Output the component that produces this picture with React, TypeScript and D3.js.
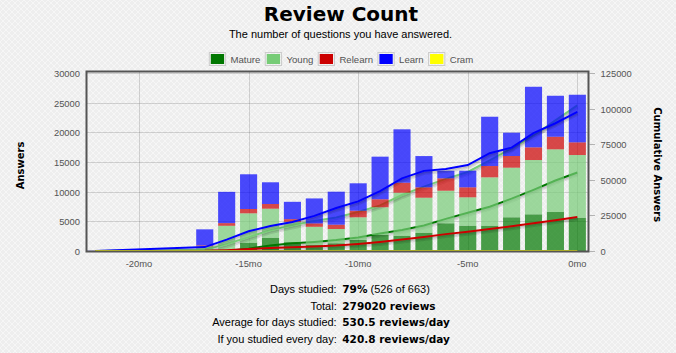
import React from "react";
import * as d3 from "d3";

// ---- data ----
const months = [-22, -17, -16, -15, -14, -13, -12, -11, -10, -9, -8, -7, -6, -5, -4, -3, -2, -1, 0];
const matureCounts = [0, 100, 150, 1400, 2240, 1500, 1000, 1300, 1850, 2700, 2580, 3080, 4670, 4260, 4260, 5680, 6180, 6570, 5610];
const youngCounts = [0, 700, 4100, 4950, 4890, 3420, 3080, 2410, 3830, 4670, 7245, 5900, 5490, 4790, 8155, 8360, 9150, 10565, 10565];
const relearnCounts = [0, 150, 450, 730, 790, 450, 570, 725, 1110, 1350, 1685, 1750, 2090, 1685, 1905, 1970, 2140, 2120, 2140];
const learnCounts = [30, 2700, 5270, 5850, 3660, 2920, 4210, 5560, 4620, 7180, 9000, 5270, 1280, 2800, 8310, 3930, 10210, 6910, 8020];
const cramCounts = [0, 0, 0, 0, 0, 0, 0, 0, 0, 0, 0, 0, 0, 0, 0, 0, 0, 0, 0];

const seriesNames = ["Mature", "Young", "Relearn", "Learn", "Cram"];
const seriesColors = ["#007700", "#77cc77", "#cc0000", "#0000ff", "#ffff00"];

const leftTicks = [0, 5000, 10000, 15000, 20000, 25000, 30000];
const rightTicks = [0, 25000, 50000, 75000, 100000, 125000];
const monthTicks = [-20, -15, -10, -5, 0];
const monthTickLabels = ["-20mo", "-15mo", "-10mo", "-5mo", "0mo"];

const titleText = "Review Count";
const subtitleText = "The number of questions you have answered.";
const leftAxisTitle = "Answers";
const rightAxisTitle = "Cumulative Answers";

const statLabels = ["Days studied:", "Total:", "Average for days studied:", "If you studied every day:"];
const statValues = ["79%", "279020 reviews", "530.5 reviews/day", "420.8 reviews/day"];
const statExtras = [" (526 of 663)", "", "", ""];

// ---- layout ----
const W = 676;
const H = 353;
const SANS = "'Liberation Sans', Arial, sans-serif";
const BOLD = "'DejaVu Sans', Verdana, sans-serif";
const AXIS_COLOR = "#545454";

function measureText(text: string, font: string): number {
  const ctx = document.createElement("canvas").getContext("2d");
  if (!ctx) return text.length * 5;
  ctx.font = font;
  return ctx.measureText(text).width;
}

export default function App() {
  const x = d3.scaleLinear().domain([-22.4, 0.55]).range([86.4, 589.4]);
  const yL = d3.scaleLinear().domain([0, 30000]).range([251, 73]);
  const yR = d3.scaleLinear().domain([0, 125000]).range([251, 73]);

  const seriesValues = [matureCounts, youngCounts, relearnCounts, learnCounts, cramCounts];
  const rows = months.map((m, i) => {
    const r: any = { month: m };
    seriesNames.forEach((n, k) => (r[n] = seriesValues[k][i]));
    return r;
  });
  const stacked = d3.stack<any>().keys(seriesNames)(rows);
  const cumulative = seriesValues.map((v) => Array.from(d3.cumsum(v)));
  const barW = x(0.78) - x(0);

  const lineGen = d3
    .line<number>()
    .x((_, i) => x(months[i]))
    .y((d) => yR(d));

  // legend layout
  const legendFont = `9.6px ${SANS}`;
  const boxW = 17.3;
  const gapA = 4.4;
  const gapB = 4.4;
  const textWs = seriesNames.map((n) => measureText(n, legendFont));
  const totalLegend =
    textWs.reduce((a, b) => a + b, 0) + seriesNames.length * (boxW + gapA) + (seriesNames.length - 1) * gapB;
  let cursor = 341 - totalLegend / 2;
  const legendItems = seriesNames.map((n, i) => {
    const bx = cursor;
    const tx = bx + boxW + gapA;
    cursor = tx + textWs[i] + gapB;
    return { name: n, color: seriesColors[i], bx, tx };
  });

  const plotL = 86.5;
  const plotT = 71.5;
  const plotR = 588.5;
  const plotB = 251.5;

  return (
    <div style={{ position: "absolute", left: 0, top: 0, width: W, height: H }}>
      <svg width={W} height={H} style={{ display: "block" }}>
        <defs>
          <pattern id="bgtex" width="6" height="6" patternUnits="userSpaceOnUse">
            <rect width="6" height="6" fill="#eeeeee" />
            <path d="M0,0 L6,6 M6,0 L0,6" stroke="#f6f6f6" strokeWidth="1" />
          </pattern>
          <clipPath id="plotclip">
            <rect x={plotL} y={plotT} width={plotR - plotL} height={plotB - plotT} />
          </clipPath>
        </defs>
        <rect width={W} height={H} fill="url(#bgtex)" />

        {/* title */}
        <text x={341} y={21} textAnchor="middle" fontFamily={BOLD} fontWeight="bold" fontSize={20} fill="#000">
          {titleText}
        </text>
        <text x={340.5} y={37.5} textAnchor="middle" fontFamily={SANS} fontSize={11} fill="#000">
          {subtitleText}
        </text>

        {/* legend */}
        {legendItems.map((it) => (
          <g key={it.name}>
            <rect x={it.bx + 0.5} y={52.5} width={boxW - 1} height={13} fill="none" stroke="#cccccc" strokeWidth={1} />
            <rect x={it.bx + 2} y={54} width={boxW - 4} height={10} fill={it.color} />
            <text x={it.tx} y={62.5} fontFamily={SANS} fontSize={9.6} fill={AXIS_COLOR}>
              {it.name}
            </text>
          </g>
        ))}

        {/* grid */}
        <g stroke="rgba(84,84,84,0.22)" strokeWidth={1}>
          {leftTicks.map((t) => (
            <line key={"h" + t} x1={plotL} x2={plotR} y1={Math.round(yL(t)) + 0.5} y2={Math.round(yL(t)) + 0.5} />
          ))}
          {monthTicks.map((t) => (
            <line key={"v" + t} x1={Math.round(x(t)) + 0.5} x2={Math.round(x(t)) + 0.5} y1={plotT} y2={plotB} />
          ))}
        </g>

        {/* series: bars then cumulative line, in flot order */}
        <g clipPath="url(#plotclip)">
          {stacked.map((layer, k) => (
            <g key={seriesNames[k]}>
              {layer.map((d, i) =>
                d[1] - d[0] > 0 ? (
                  <rect
                    key={i}
                    x={x(months[i]) - barW / 2}
                    y={yL(d[1])}
                    width={barW}
                    height={yL(d[0]) - yL(d[1])}
                    fill={seriesColors[k]}
                    fillOpacity={0.7}
                  />
                ) : null
              )}
              <path
                d={lineGen(cumulative[k]) || ""}
                fill="none"
                stroke="rgba(0,0,0,0.1)"
                strokeWidth={3}
                transform="translate(0.43,2.46)"
              />
              <path
                d={lineGen(cumulative[k]) || ""}
                fill="none"
                stroke="rgba(0,0,0,0.1)"
                strokeWidth={1.5}
                transform="translate(0.3,1.72)"
              />
              <path d={lineGen(cumulative[k]) || ""} fill="none" stroke={seriesColors[k]} strokeWidth={2} />
            </g>
          ))}
        </g>

        {/* frame */}
        <rect x={plotL} y={plotT} width={plotR - plotL} height={plotB - plotT} fill="none" stroke={AXIS_COLOR} strokeWidth={2} />

        {/* left axis labels */}
        {leftTicks.map((t) => (
          <text key={"l" + t} x={80} y={yL(t) + 4} textAnchor="end" fontFamily={SANS} fontSize={9.4} fill={AXIS_COLOR}>
            {t}
          </text>
        ))}
        {/* right axis ticks + labels */}
        {rightTicks.map((t) => (
          <g key={"r" + t}>
            <line x1={589.5} x2={595} y1={Math.round(yR(t)) + 0.5} y2={Math.round(yR(t)) + 0.5} stroke="rgba(84,84,84,0.4)" />
            <text x={600.5} y={yR(t) + 4} textAnchor="start" fontFamily={SANS} fontSize={9.4} fill={AXIS_COLOR}>
              {t}
            </text>
          </g>
        ))}
        {/* x axis labels */}
        {monthTicks.map((t, i) => (
          <text key={"x" + t} x={x(t)} y={267} textAnchor="middle" fontFamily={SANS} fontSize={9.4} fill={AXIS_COLOR}>
            {monthTickLabels[i]}
          </text>
        ))}

        {/* axis titles */}
        <text
          transform={`translate(24,165.5) rotate(-90)`}
          textAnchor="middle"
          fontFamily={BOLD}
          fontWeight="bold"
          fontSize={10}
          fill="#000"
        >
          {leftAxisTitle}
        </text>
        <text
          transform={`translate(653.5,164.7) rotate(90)`}
          textAnchor="middle"
          fontFamily={BOLD}
          fontWeight="bold"
          fontSize={10}
          fill="#000"
        >
          {rightAxisTitle}
        </text>

        {/* stats */}
        {statLabels.map((lab, i) => (
          <g key={lab}>
            <text x={336.7} y={293 + i * 16.55} textAnchor="end" fontFamily={SANS} fontSize={11} fill="#000">
              {lab}
            </text>
            <text x={342.3} y={293 + i * 16.55} textAnchor="start" fontFamily={SANS} fontSize={11} fill="#000">
              <tspan fontFamily={BOLD} fontWeight="bold" fontSize={10.5}>
                {statValues[i]}
              </tspan>
              {statExtras[i] ? <tspan>{statExtras[i]}</tspan> : null}
            </text>
          </g>
        ))}
      </svg>
    </div>
  );
}
